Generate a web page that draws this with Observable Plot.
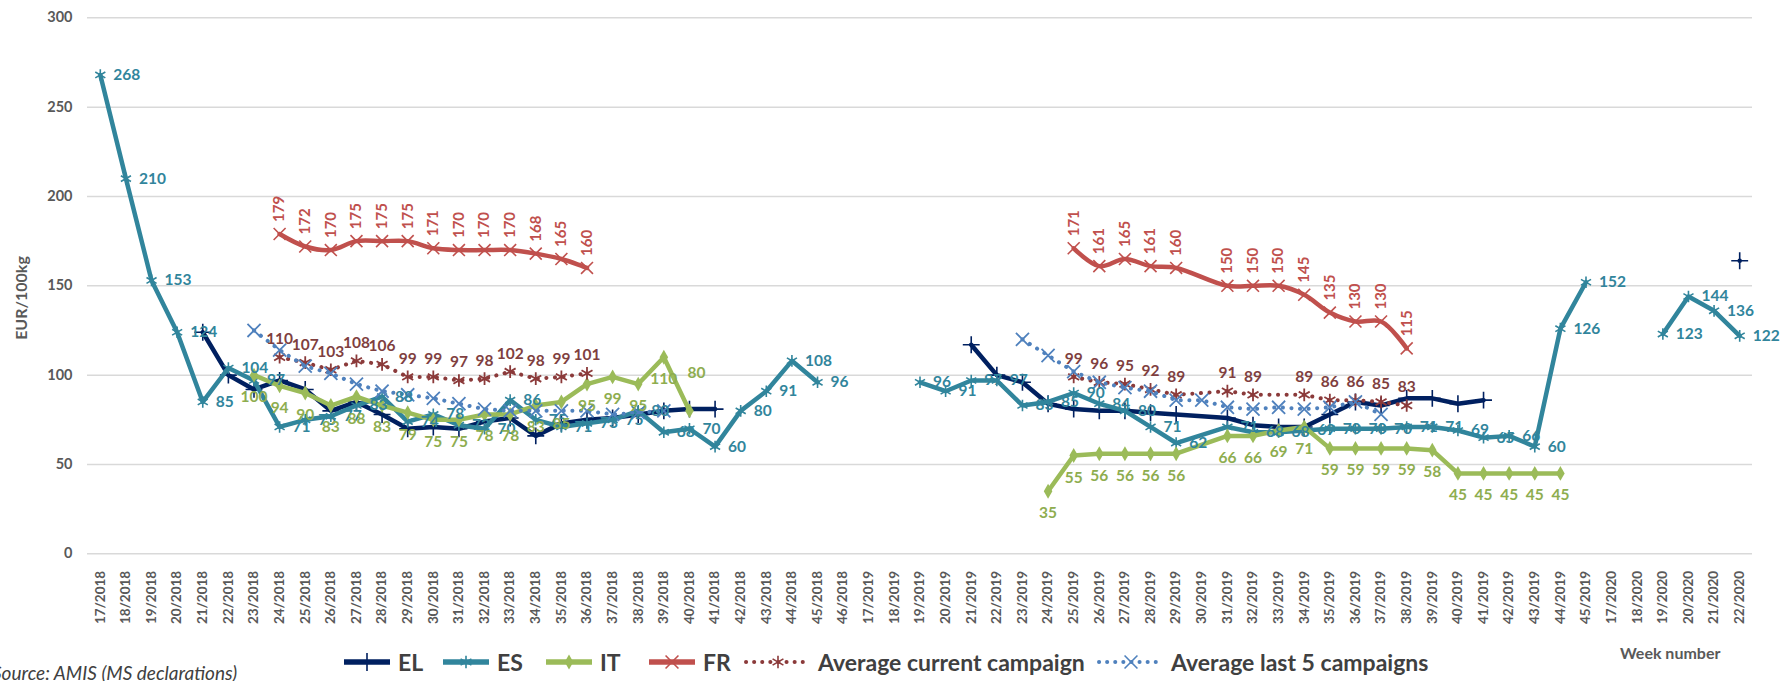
<!DOCTYPE html>
<html><head><meta charset="utf-8">
<script src="https://cdn.jsdelivr.net/npm/d3@7"></script>
<script src="https://cdn.jsdelivr.net/npm/@observablehq/plot@0.6"></script>
<style>
body{margin:0;overflow:hidden;background:#fff;font-family:Lato,"Open Sans",sans-serif;}
#wrap{position:relative;width:1789px;height:681px;overflow:hidden;}
#chart{position:absolute;left:0;top:0;}
.ylab{position:absolute;left:20px;top:298px;transform:translate(-50%,-50%) rotate(-90deg);font-weight:bold;font-size:16px;color:#595959;white-space:nowrap;}
.wk{position:absolute;left:1620px;top:643px;font-weight:bold;font-size:16px;color:#595959;white-space:nowrap;}
.src{position:absolute;left:-8px;top:661px;font-style:italic;font-size:19px;color:#404040;white-space:nowrap;}
#legend{position:absolute;left:0;top:648px;width:1789px;height:26px;font-weight:bold;font-size:23px;color:#404040;white-space:nowrap;}
#legend .it{position:absolute;top:0;display:flex;align-items:center;}
#legend svg{margin-right:4px;}
</style></head><body><div id="wrap"><div id="chart"></div>
<div class="ylab">EUR/100kg</div>
<div class="wk">Week number</div>
<div class="src">Source: AMIS (MS declarations)</div>
<div id="legend"></div></div>
<script>
const weeks = ["17/2018","18/2018","19/2018","20/2018","21/2018","22/2018","23/2018","24/2018","25/2018","26/2018","27/2018","28/2018","29/2018","30/2018","31/2018","32/2018","33/2018","34/2018","35/2018","36/2018","37/2018","38/2018","39/2018","40/2018","41/2018","42/2018","43/2018","44/2018","45/2018","46/2018",
"17/2019","18/2019","19/2019","20/2019","21/2019","22/2019","23/2019","24/2019","25/2019","26/2019","27/2019","28/2019","29/2019","30/2019","31/2019","32/2019","33/2019","34/2019","35/2019","36/2019","37/2019","38/2019","39/2019","40/2019","41/2019","42/2019","43/2019","44/2019","45/2019",
"17/2020","18/2020","19/2020","20/2020","21/2020","22/2020"];
const _ = null;
// 2018 (17..46) | 2019 (17..45) | 2020 (17..22)
const EL = [_,_,_,_,124,100,92,97,92,80,85,78,70,71,70,74,76,66,73,75,76,78,80,81,81,_,_,_,_,_,
  _,_,_,_,117,100,96,84,81,80,80,79,78,_,76,72,71,71,78,85,83,87,87,84,86,_,_,_,_,
  _,_,_,_,_,164];
const ES = [268,210,153,124,85,104,97,71,75,77,83,88,74,78,72,70,86,75,71,73,75,80,68,70,60,80,91,108,96,_,
  _,_,96,91,97,97,83,85,90,84,80,71,62,_,71,68,68,69,70,70,70,71,71,69,65,66,60,126,152,
  _,_,123,144,136,122];
const IT = [_,_,_,_,_,_,100,94,90,83,88,83,79,75,75,78,78,83,85,95,99,95,110,80,_,_,_,_,_,_,
  _,_,_,_,_,_,_,35,55,56,56,56,56,_,66,66,69,71,59,59,59,59,58,45,45,45,45,45,_,
  _,_,_,_,_,_];
const FR = [_,_,_,_,_,_,_,179,172,170,175,175,175,171,170,170,170,168,165,160,_,_,_,_,_,_,_,_,_,_,
  _,_,_,_,_,_,_,_,171,161,165,161,160,_,150,150,150,145,135,130,130,115,_,_,_,_,_,_,_,
  _,_,_,_,_,_];
const AVG_CUR = [_,_,_,_,_,_,_,110,107,103,108,106,99,99,97,98,102,98,99,101,_,_,_,_,_,_,_,_,_,_,
  _,_,_,_,_,_,_,_,99,96,95,92,89,_,91,89,_,89,86,86,85,83,_,_,_,_,_,_,_,
  _,_,_,_,_,_];
const AVG_5 = [_,_,_,_,_,_,125,114,105,101,95,91,89,87,84,81,80,80,80,80,78,79,80,_,_,_,_,_,_,_,
  _,_,_,_,_,_,120,111,102,96,93,91,86,86,82,81,82,81,82,85,78,_,_,_,_,_,_,_,_,
  _,_,_,_,_,_];
const seriesNames = ["EL","ES","IT","FR","Average current campaign","Average last 5 campaigns"];
const seriesColors = ["#002060","#31859C","#9BBB59","#C0504D","#8B3A3A","#4F81BD"];
const labelColors = ["#002060","#31859C","#8EAD4F","#C0504D","#7F3F3F","#4F81BD"];
const symbols = ["plus","asterisk","diamond","times","asterisk","times"];
const yTicks = [0,50,100,150,200,250,300];
const movedLabelWeek = "40/2018"; // IT label moved up-right in the original

const all = [EL,ES,IT,FR,AVG_CUR,AVG_5];
const rows = all.map((vals,k)=>vals.map((v,i)=>({series:seriesNames[k], week:weeks[i], camp:weeks[i].split("/")[1], value:v})).filter(d=>d.value!=null));

const W=1789, H=660, MT=17.3, MB=H-553.3, ML=87, MR=37;
const FS=15.5;
const marks = [Plot.ruleY(yTicks,{stroke:"#d9d9d9",strokeWidth:1.5})];
[0,1,2,3].forEach(k=>{
  marks.push(Plot.line(rows[k],{x:"week",y:"value",z:"camp",stroke:seriesColors[k],strokeWidth:4.5,
    curve: k===3?"catmull-rom":"linear",strokeLinejoin:"round"}));
  marks.push(Plot.dot(rows[k],{x:"week",y:"value",symbol:symbols[k],r:k===2?4.5:5.5,
    ...(k===2?{fill:seriesColors[k],stroke:"none"}:{stroke:seriesColors[k],strokeWidth:1.6,fill:"none"})}));
});
[4,5].forEach(k=>{
  marks.push(Plot.line(rows[k],{x:"week",y:"value",z:"camp",stroke:seriesColors[k],strokeWidth:4,strokeDasharray:"0.1 8.5",strokeLinecap:"round"}));
  marks.push(Plot.dot(rows[k],{x:"week",y:"value",symbol:symbols[k],r:6,stroke:seriesColors[k],strokeWidth:1.8}));
});
// data labels
marks.push(Plot.text(rows[1],{x:"week",y:"value",text:d=>String(d.value),fill:labelColors[1],textAnchor:"start",dx:13,fontSize:FS,fontWeight:"bold"}));
marks.push(Plot.text(rows[2],{filter:d=>d.week!==movedLabelWeek,x:"week",y:"value",text:d=>String(d.value),fill:labelColors[2],dy:22,fontSize:FS,fontWeight:"bold"}));
marks.push(Plot.text(rows[2],{filter:d=>d.week===movedLabelWeek,x:"week",y:"value",text:d=>String(d.value),fill:labelColors[2],dx:7,dy:-38,fontSize:FS,fontWeight:"bold"}));
marks.push(Plot.text(rows[4],{x:"week",y:"value",text:d=>String(d.value),fill:labelColors[4],dy:-18,fontSize:FS,fontWeight:"bold"}));
marks.push(Plot.text(rows[3],{x:"week",y:"value",text:d=>String(d.value),fill:labelColors[3],rotate:-90,textAnchor:"start",dy:-12,fontSize:FS-0.5,fontWeight:"bold"}));
marks.push(Plot.axisX({tickRotate:-90,tickSize:0,tickPadding:17,fontSize:13.5,label:null}));
marks.push(Plot.axisY(yTicks,{tickSize:0,tickPadding:15,fontSize:14.5,label:null}));

const chart = Plot.plot({
  width:W,height:H,marginTop:MT,marginBottom:MB,marginLeft:ML,marginRight:MR,
  style:{fontFamily:"Lato, 'Open Sans', sans-serif",fontWeight:"bold",color:"#595959",background:"transparent"},
  x:{type:"point",domain:weeks,padding:0.5},
  y:{domain:[0,300]},
  marks
});
document.getElementById("chart").appendChild(chart);

// legend
const leg = document.getElementById("legend");
const symMap = {plus:d3.symbolPlus,asterisk:d3.symbolAsterisk,diamond:d3.symbolDiamond,times:d3.symbolTimes};
const legendLeft = [340,439,542,645,742,1095];
seriesNames.forEach((name,k)=>{
  const it = document.createElement("div"); it.className="it";
  it.style.left = legendLeft[k]+"px";
  const dotted = k>=4;
  const sw = dotted?72:54;
  const path = d3.symbol(symMap[symbols[k]], k===2?64:110)();
  const filled = k===2;
  it.innerHTML = `<svg width="${sw}" height="26"><line x1="4" x2="${sw-4}" y1="13" y2="13" stroke="${seriesColors[k]}" stroke-width="${dotted?4:5.5}" ${dotted?'stroke-dasharray="0.1 8" stroke-linecap="round"':''}/>`+
    `<path transform="translate(${sw/2},13)" d="${path}" fill="${filled?seriesColors[k]:'none'}" stroke="${filled?'none':seriesColors[k]}" stroke-width="1.6"/></svg><span>${name}</span>`;
  leg.appendChild(it);
});
</script></body></html>
